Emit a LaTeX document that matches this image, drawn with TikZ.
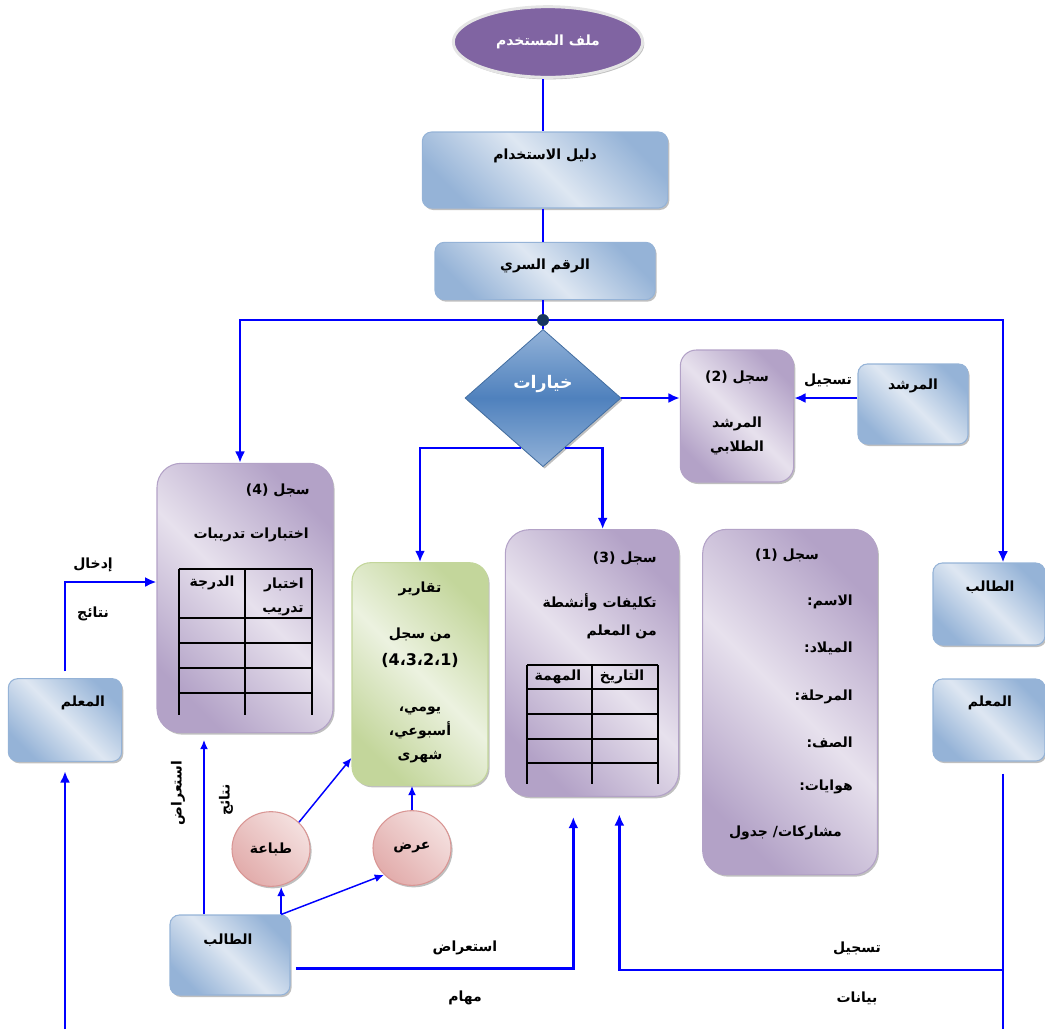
\documentclass[tikz,border=0pt]{standalone}
\usepackage{fontspec}
\usepackage{tikz}
\usetikzlibrary{arrows,arrows.meta,shadows,shapes.geometric}

\newfontfamily\arabicfont[Script=Arabic]{DejaVu Sans}
\TeXXeTstate=1
\newcommand{\arab}[1]{\beginR #1\endR}

\definecolor{blaudunkel}{RGB}{149,179,215}
\definecolor{blauhell}{RGB}{222,231,242}
\definecolor{lila}{RGB}{128,100,162}
\definecolor{liladunkel}{RGB}{179,162,199}
\definecolor{lilahell}{RGB}{231,225,237}
\definecolor{gruendunkel}{RGB}{195,214,155}
\definecolor{gruenhell}{RGB}{236,242,224}
\definecolor{rosadunkel}{RGB}{226,172,171}
\definecolor{rosahell}{RGB}{244,224,223}
\definecolor{rosarand}{RGB}{217,150,148}
\definecolor{rautenblau}{RGB}{79,129,189}
\definecolor{rautenhell}{RGB}{146,178,216}
\definecolor{punktblau}{RGB}{23,55,94}
\definecolor{pfeilblau}{RGB}{0,0,255}

\begin{document}
\begin{tikzpicture}[x=0.75pt, y=-0.75pt,
    schatten/.style={drop shadow={shadow xshift=1.2pt, shadow yshift=-1.5pt, fill=black!50, opacity=.5}},
    schrift/.style={font=\arabicfont\bfseries\fontsize{10.5}{18}\selectfont, inner sep=0pt},
    ellipsenform/.style={ellipse, fill=lila, draw=gray!20, line width=2.2pt, schatten},
    kasten/.style={rectangle, rounded corners=7pt, draw=blaudunkel, line width=.8pt,
      left color=blaudunkel, right color=blaudunkel, middle color=blauhell, shading angle=135, schatten},
    akte/.style={rectangle, rounded corners=18pt, draw=liladunkel, line width=.8pt,
      left color=liladunkel, right color=liladunkel, middle color=lilahell, shading angle=135, schatten},
    bericht/.style={rectangle, rounded corners=14pt, draw=gruendunkel, line width=.8pt,
      left color=gruendunkel, right color=gruendunkel, middle color=gruenhell, shading angle=135, schatten},
    raute/.style={diamond, inner sep=0pt, draw=rautenblau!85!black, line width=.6pt,
      top color=rautenhell, bottom color=rautenhell, middle color=rautenblau, schatten},
    knoten/.style={ellipse, minimum width=58.5pt, minimum height=56pt, inner sep=0pt,
      draw=rosarand, line width=.8pt, left color=rosadunkel, right color=rosahell, shading angle=135, schatten},
    linie/.style={draw=pfeilblau, line width=2.1pt},
    duenn/.style={draw=pfeilblau, line width=1.1pt},
    spitze/.style={-{Latex[length=8.5pt,width=7.5pt]}},
    kleinspitze/.style={-{Latex[length=7pt,width=6pt]}},
    tabelle/.style={line width=.9pt}
  ]
  \useasboundingbox (0,0) rectangle (1045,1029);

  \coordinate (punkt) at (543,320);

  % oberer Teil
  \node at (548,42) (datei) [ellipsenform, minimum width=142pt, minimum height=53pt, schrift, text=white] {\arab{ملف المستخدم}};

  \node at (545,170) (anleitung) [kasten, minimum width=184pt, minimum height=57pt] {};
  \node at (545,156) (anleitungtext) [schrift] {\arab{دليل الاستخدام}};

  \node at (545,271) (pin) [kasten, minimum width=165pt, minimum height=43pt] {};
  \node at (545,266) (pintext) [schrift] {\arab{الرقم السري}};

  \node at (543,398) (wahl) [raute, minimum width=117pt, minimum height=103pt] {};
  \node at (543,384) (wahltext) [schrift, text=white, font=\arabicfont\bfseries\fontsize{13}{15}\selectfont] {\arab{خيارات}};

  \node at (737,416) (akte2) [akte, rounded corners=12pt, minimum width=85pt, minimum height=99pt] {};
  \node at (737,413) (akte2text) [schrift, align=center] {\arab{سجل (2)}\\[16pt]\arab{المرشد}\\\arab{الطلابي}};

  \node at (913,404) (mentor) [kasten, minimum width=82.5pt, minimum height=60pt] {};
  \node at (913,386) (mentortext) [schrift] {\arab{المرشد}};
  \node at (828,380) (registrierung) [schrift] {\arab{تسجيل}};

  % sjl 4
  \node at (245,598) (akte4) [akte, minimum width=132pt, minimum height=202pt] {};
  \node at (310,490) (akte4titel) [schrift, anchor=east] {\arab{سجل (4)}};
  \node at (309,535) (akte4text) [schrift, anchor=east] {\arab{اختبارات تدريبات}};
  \foreach \y in {569,618,643,668,693}
    \draw [tabelle] (179,\y) -- (312,\y);
  \foreach \x in {179,245,312}
    \draw [tabelle] (\x,569) -- (\x,715);
  \node at (304,597) (akte4kopf1) [schrift, anchor=east, align=right] {\arab{اختبار}\\\arab{تدريب}};
  \node at (212,583) (akte4kopf2) [schrift] {\arab{الدرجة}};

  % Berichte
  \node at (420,674) (berichte) [bericht, minimum width=102pt, minimum height=167pt] {};
  \node at (420,589) (berichttitel) [schrift] {\arab{تقارير}};
  \node at (420,648) (berichtquelle) [schrift, align=center] {\arab{من سجل}\\[2pt]{\fontsize{12}{14}\selectfont\beginL(4،3،2،1)\endL}};
  \node at (420,735) (berichtzeit) [schrift, align=center] {\arab{يومي،}\\\arab{أسبوعي،}\\\arab{شهرى}};

  % sjl 3
  \node at (592,663) (akte3) [akte, minimum width=130pt, minimum height=200pt] {};
  \node at (657,558) (akte3titel) [schrift, anchor=east] {\arab{سجل (3)}};
  \node at (657,616) (akte3text) [schrift, anchor=east, align=right] {\arab{تكليفات وأنشطة}\\[3pt]\arab{من المعلم}};
  \foreach \y in {665,689,714,739,763}
    \draw [tabelle] (527,\y) -- (658,\y);
  \foreach \x in {527,592,658}
    \draw [tabelle] (\x,665) -- (\x,784);
  \node at (622,677) (akte3kopf1) [schrift] {\arab{التاريخ}};
  \node at (558,677) (akte3kopf2) [schrift] {\arab{المهمة}};

  % sjl 1
  \node at (790,702) (akte1) [akte, minimum width=131pt, minimum height=259pt] {};
  \node at (787,555) (akte1titel) [schrift] {\arab{سجل (1)}};
  \foreach \feld/\y [count=\i] in {{الاسم:}/602, {الميلاد:}/648, {المرحلة:}/697, {الصف:}/742, {هوايات:}/787}
    \node at (853,\y) (akte1feld\i) [schrift, anchor=east] {\arab{\feld}};
  \node at (842,833) (akte1feld6) [schrift, anchor=east] {\arab{مشاركات/ جدول}};

  % Personen
  \node at (989,604) (schueler2) [kasten, minimum width=84pt, minimum height=61.5pt] {};
  \node at (990,587) (schueler2text) [schrift] {\arab{الطالب}};
  \node at (989,720) (lehrer2) [kasten, minimum width=84pt, minimum height=61.5pt] {};
  \node at (990,703) (lehrer2text) [schrift] {\arab{المعلم}};

  \node at (65,720) (lehrer1) [kasten, minimum width=85pt, minimum height=62pt] {};
  \node at (83,703) (lehrer1text) [schrift] {\arab{المعلم}};
  \node at (93,565) (eingabe) [schrift] {\arab{إدخال}};
  \node at (93,614) (ergebnis) [schrift] {\arab{نتائج}};

  \node at (230,955) (schueler1) [kasten, minimum width=90pt, minimum height=60pt] {};
  \node at (228,940) (schueler1text) [schrift] {\arab{الطالب}};
  \node at (178,793) (ansicht1) [schrift, rotate=90] {\arab{استعراض}};
  \node at (226,800) (ergebnis2) [schrift, rotate=90] {\arab{نتائج}};

  \node at (271,849) (druck) [knoten, schrift] {\arab{طباعة}};
  \node at (412,848) (anzeige) [knoten, schrift] {\arab{عرض}};

  \node at (465,948) (ansicht2) [schrift] {\arab{استعراض}};
  \node at (465,998) (aufgaben) [schrift] {\arab{مهام}};
  \node at (857,948) (registrierung2) [schrift] {\arab{تسجيل}};
  \node at (857,998) (daten) [schrift] {\arab{بيانات}};

  \coordinate (unten1) at (65,1029);
  \coordinate (unten2) at (1003,1029);
  \coordinate (knick) at (1003,970);
  \coordinate (s1) at ([xshift=-7pt]schueler1.north east);

  % Verbindungen
  \draw [linie] (datei.south -| punkt) -- (anleitung.north -| punkt);
  \draw [linie] (anleitung.south -| punkt) -- (pin.north -| punkt);
  \draw [linie] (pin.south -| punkt) -- (punkt);
  \draw [linie] (punkt) -- (wahl.north);
  \draw [linie, spitze] (punkt) -| ([xshift=-3.75pt]akte4.north);
  \draw [linie, spitze] (punkt) -| ([xshift=10.5pt]schueler2.north);
  \fill [punktblau] (punkt) circle (4.5pt);

  \draw [linie, spitze] (wahl.east) -- (wahl.east -| akte2.west);
  \draw [linie, spitze] ([yshift=4.5pt]mentor.west) -- ([yshift=4.5pt]mentor.west -| akte2.east);
  \draw [linie, spitze] ([shift={(-22,-19)}]wahl.south) -| (berichte.north);
  \draw [linie, spitze] ([shift={(22,-19)}]wahl.south) -| ([xshift=8pt]akte3.north);

  \draw [linie, spitze, shorten <=5pt] (lehrer1.north) |- ([yshift=12pt]akte4.west);
  \draw [linie, spitze, shorten >=7pt] (unten1) -- (lehrer1.south);

  \draw [duenn, kleinspitze, shorten >=5pt] ([xshift=-19.5pt]schueler1.north) -- ([xshift=-19.5pt]schueler1.north |- akte4.south);
  \draw [duenn, kleinspitze] (s1) -- (s1 |- druck.south);
  \draw [duenn, kleinspitze] (s1) -- (anzeige.south west);
  \draw [duenn, kleinspitze] (druck.north east) -- ([yshift=21pt]berichte.south west);
  \draw [duenn, kleinspitze] (anzeige.north) -- (anzeige.north |- berichte.south);

  \draw [linie, spitze, shorten <=4pt, shorten >=15pt] ([yshift=-10pt]schueler1.east) -| ([xshift=-14pt]akte3.south);
  \draw [linie, shorten <=9pt] ([xshift=10.5pt]lehrer2.south) -- (unten2);
  \draw [linie, spitze, shorten >=13pt] (knick) -| ([xshift=20.5pt]akte3.south);

\end{tikzpicture}
\end{document}
